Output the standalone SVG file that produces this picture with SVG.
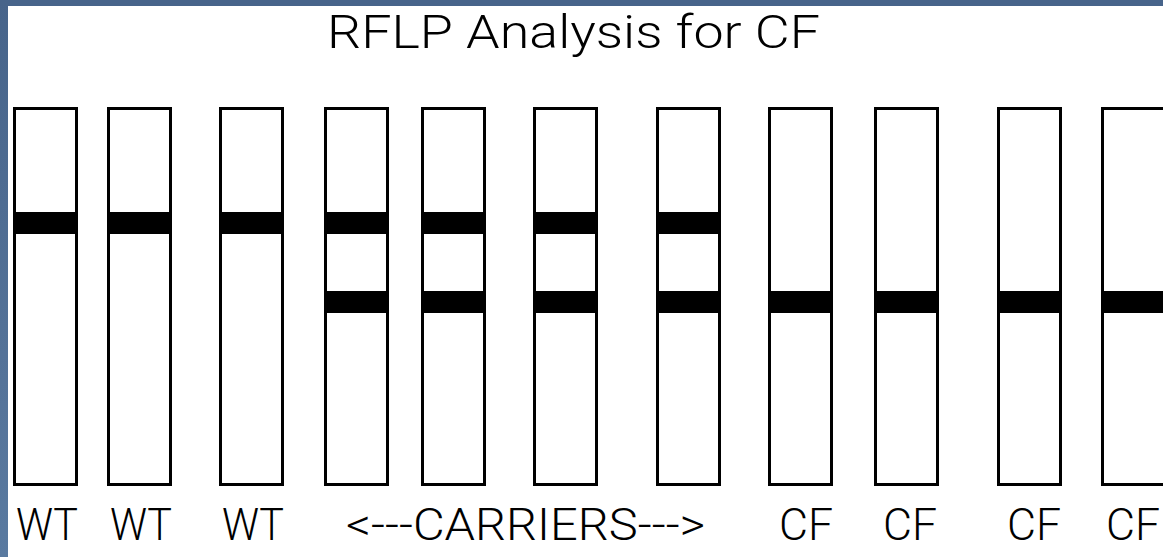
<svg xmlns="http://www.w3.org/2000/svg" width="1163" height="557" viewBox="0 0 1163 557">
  <defs>
    <linearGradient id="edge" x1="0" y1="0" x2="0" y2="1">
      <stop offset="0" stop-color="#47648a"/>
      <stop offset="1" stop-color="#5a7aa0"/>
    </linearGradient>
    <style>
      .lane { fill: #ffffff; stroke: #000000; stroke-width: 3; }
      .band { fill: #000000; }
      .lbl { font-family: Roboto, "Liberation Sans", Arial, sans-serif; font-weight: 300; font-size: 45px; fill: #000000; }
      .title { font-family: Roboto, "Liberation Sans", Arial, sans-serif; font-weight: 300; font-size: 47px; fill: #000000; }
    </style>
  </defs>

  <!-- page background and frame -->
  <rect x="0" y="0" width="1163" height="557" fill="#ffffff"/>
  <rect x="0" y="0" width="1163" height="6" fill="#47648a"/>
  <rect x="0" y="0" width="8" height="557" fill="url(#edge)"/>

  <text class="title" x="327" y="48" textLength="493" lengthAdjust="spacingAndGlyphs">RFLP Analysis for CF</text>

  <!-- gel lanes: wild type -->
  <g id="lane1">
    <rect class="lane" x="14.5" y="108.5" width="62" height="376"/>
    <rect class="band" x="13" y="212" width="65" height="22"/>
    <text class="lbl" x="16" y="540" textLength="62" lengthAdjust="spacingAndGlyphs">WT</text>
  </g>
  <g id="lane2">
    <rect class="lane" x="108.5" y="108.5" width="62" height="376"/>
    <rect class="band" x="107" y="212" width="65" height="22"/>
    <text class="lbl" x="110" y="540" textLength="62" lengthAdjust="spacingAndGlyphs">WT</text>
  </g>
  <g id="lane3">
    <rect class="lane" x="220.5" y="108.5" width="62" height="376"/>
    <rect class="band" x="219" y="212" width="65" height="22"/>
    <text class="lbl" x="222" y="540" textLength="62" lengthAdjust="spacingAndGlyphs">WT</text>
  </g>

  <!-- gel lanes: carriers -->
  <g id="lane4">
    <rect class="lane" x="325.5" y="108.5" width="62" height="376"/>
    <rect class="band" x="324" y="212" width="65" height="22"/>
    <rect class="band" x="324" y="291" width="65" height="22"/>
  </g>
  <g id="lane5">
    <rect class="lane" x="422.5" y="108.5" width="62" height="376"/>
    <rect class="band" x="421" y="212" width="65" height="22"/>
    <rect class="band" x="421" y="291" width="65" height="22"/>
  </g>
  <g id="lane6">
    <rect class="lane" x="534.5" y="108.5" width="62" height="376"/>
    <rect class="band" x="533" y="212" width="65" height="22"/>
    <rect class="band" x="533" y="291" width="65" height="22"/>
  </g>
  <g id="lane7">
    <rect class="lane" x="657.5" y="108.5" width="62" height="376"/>
    <rect class="band" x="656" y="212" width="65" height="22"/>
    <rect class="band" x="656" y="291" width="65" height="22"/>
  </g>
  <text id="carriers" class="lbl" x="346" y="540" textLength="359" lengthAdjust="spacingAndGlyphs">&lt;---CARRIERS---&gt;</text>

  <!-- gel lanes: affected -->
  <g id="lane8">
    <rect class="lane" x="769.5" y="108.5" width="62" height="376"/>
    <rect class="band" x="768" y="291" width="65" height="22"/>
    <text class="lbl" x="779" y="540" textLength="54" lengthAdjust="spacingAndGlyphs">CF</text>
  </g>
  <g id="lane9">
    <rect class="lane" x="875.5" y="108.5" width="62" height="376"/>
    <rect class="band" x="874" y="291" width="65" height="22"/>
    <text class="lbl" x="883" y="540" textLength="54" lengthAdjust="spacingAndGlyphs">CF</text>
  </g>
  <g id="lane10">
    <rect class="lane" x="998.5" y="108.5" width="62" height="376"/>
    <rect class="band" x="997" y="291" width="65" height="22"/>
    <text class="lbl" x="1007" y="540" textLength="54" lengthAdjust="spacingAndGlyphs">CF</text>
  </g>
  <g id="lane11">
    <rect class="lane" x="1102.5" y="108.5" width="62" height="376"/>
    <rect class="band" x="1101" y="291" width="65" height="22"/>
    <text class="lbl" x="1106" y="540" textLength="54" lengthAdjust="spacingAndGlyphs">CF</text>
  </g>
</svg>
